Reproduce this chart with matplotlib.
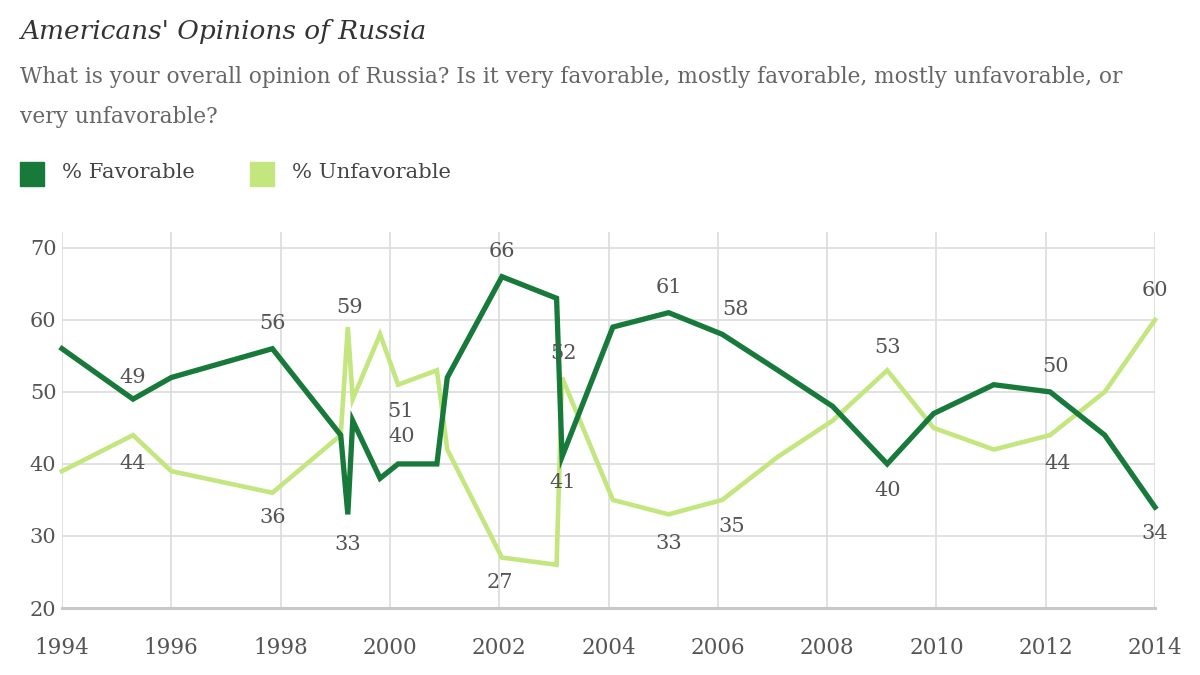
import matplotlib.pyplot as plt

# survey dates (decimal years) and results
years = [1994.0, 1995.3, 1996.0, 1997.85, 1999.1, 1999.23, 1999.32, 1999.82,
         2000.15, 2000.86, 2001.05, 2002.05, 2003.05, 2003.15, 2004.08,
         2005.1, 2006.08, 2007.1, 2008.1, 2009.1, 2009.95, 2011.05,
         2012.08, 2013.08, 2014.0]
favorable = [56, 49, 52, 56, 44, 33, 46, 38, 40, 40, 52, 66, 63, 41, 59,
             61, 58, 53, 48, 40, 47, 51, 50, 44, 34]
unfavorable = [39, 44, 39, 36, 44, 59, 49, 58, 51, 53, 42, 27, 26, 52, 35,
               33, 35, 41, 46, 53, 45, 42, 44, 50, 60]

x_ticks = list(range(1994, 2015, 2))
y_ticks = [20, 30, 40, 50, 60, 70]

# which points get a value label: (index, dx px, dy px)
fav_labels = [(1, 0, 22), (3, 0, 25), (5, 0, -30), (8, 4, 27), (11, 0, 25),
              (13, 1, -26), (15, 0, 25), (16, 13, 25), (19, 0, -27), (22, 5, 25),
              (24, 0, -26)]
unf_labels = [(1, 0, -28), (3, 0, -25), (5, 2, 20), (8, 2, -27), (11, -2, -25),
              (13, 1, 24), (15, 0, -29), (16, 10, -27), (19, 0, 23), (22, 8, -28),
              (24, 0, 29)]

dark = '#17793a'
light = '#c4e67f'
grey_text = '#555555'
plt.rcParams['font.family'] = ['DejaVu Serif']

fig = plt.figure(figsize=(12, 6.75), dpi=100)
ax = fig.add_axes([62 / 1200, 1 - 608 / 675, (1155 - 62) / 1200, (608 - 232) / 675])

ax.plot(years, unfavorable, color=light, lw=3.3, solid_joinstyle='miter', zorder=3, clip_on=False)
ax.plot(years, favorable, color=dark, lw=3.8, solid_joinstyle='miter', zorder=4, clip_on=False)

ax.set_xlim(1994, 2014)
ax.set_ylim(20, 72.2)
ax.set_xticks(x_ticks)
ax.set_xticklabels([str(t) for t in x_ticks])
ax.set_yticks(y_ticks)

for t in x_ticks:
    ax.axvline(t, color='#dcdcdc', lw=1.2, zorder=1)
for t in y_ticks[1:]:
    ax.axhline(t, color='#dcdcdc', lw=1.2, zorder=1)
ax.axhline(20, color='#c8c8c8', lw=2.2, zorder=2, clip_on=False)

for s in ax.spines.values():
    s.set_visible(False)
ax.tick_params(axis='x', length=0, labelsize=15.5, colors=grey_text, pad=21)
ax.tick_params(axis='y', length=0, labelsize=15, colors=grey_text, pad=4)

px = 0.72  # points per pixel
for series, labels in ((favorable, fav_labels), (unfavorable, unf_labels)):
    for i, dx, dy in labels:
        ax.annotate(str(series[i]), (years[i], series[i]),
                    xytext=(dx * px, dy * px), textcoords='offset points',
                    ha='center', va='center', fontsize=15, color=grey_text,
                    zorder=5, annotation_clip=False)

fig.text(20 / 1200, 1 - 31 / 675, "Americans' Opinions of Russia", fontsize=19,
         style='italic', color='#333333', va='center', ha='left')
fig.text(20 / 1200, 1 - 77 / 675,
         "What is your overall opinion of Russia? Is it very favorable, mostly favorable, mostly unfavorable, or",
         fontsize=15.6, color='#666666', va='center', ha='left')
fig.text(20 / 1200, 1 - 117 / 675, "very unfavorable?", fontsize=15.6,
         color='#666666', va='center', ha='left')

# legend
fig.patches.append(plt.Rectangle((20 / 1200, 1 - 186 / 675), 24 / 1200, 24 / 675,
                                 transform=fig.transFigure, color=dark))
fig.text(62 / 1200, 1 - 173 / 675, '% Favorable', fontsize=15.2, color='#444444',
         va='center', ha='left')
fig.patches.append(plt.Rectangle((250 / 1200, 1 - 186 / 675), 24 / 1200, 24 / 675,
                                 transform=fig.transFigure, color=light))
fig.text(292 / 1200, 1 - 173 / 675, '% Unfavorable', fontsize=15.2, color='#444444',
         va='center', ha='left')

fig.savefig('out.png', dpi=100, facecolor='white')
